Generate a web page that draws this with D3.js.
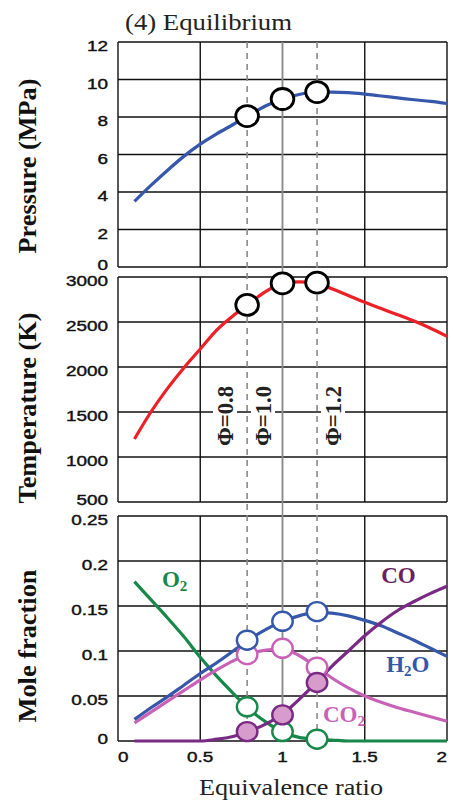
<head>
	<meta charset="utf-8">
	<script src="https://d3js.org/d3.v7.min.js"></script>
	<style>
		body {
			margin: 0;
			background: #fff;
		}
		.tick-label {
			font-family: "Liberation Sans", Arial, sans-serif;
			font-size: 14px;
			fill: #111;
			stroke: #111;
			stroke-width: 0.4px;
		}
		.serif {
			font-family: "Liberation Serif", "Times New Roman", serif;
		}
	</style>
</head>
<body>

<svg width="453" height="801" id="chart"></svg>

<script>

	var phi = [0.1, 0.2, 0.3, 0.4, 0.5, 0.6, 0.7, 0.8, 0.9, 1.0, 1.1, 1.2, 1.3, 1.4, 1.5, 1.6, 1.7, 1.8, 1.9, 2.0];

	var pressure = [3.5, 4.35, 5.15, 5.9, 6.55, 7.1, 7.6, 8.12, 8.6, 8.96, 9.2, 9.32, 9.33, 9.3, 9.22, 9.12, 9.02, 8.92, 8.83, 8.72];
	var temperature = [1200, 1500, 1760, 1990, 2200, 2410, 2570, 2710, 2840, 2930, 2945, 2938, 2870, 2795, 2720, 2650, 2580, 2510, 2430, 2340];

	var h2o = [0.024, 0.037, 0.049, 0.062, 0.075, 0.087, 0.100, 0.113, 0.124, 0.133, 0.139, 0.143, 0.142, 0.139, 0.134, 0.128, 0.120, 0.112, 0.103, 0.094];
	var co2 = [0.020, 0.032, 0.044, 0.056, 0.068, 0.079, 0.089, 0.097, 0.101, 0.102, 0.095, 0.083, 0.070, 0.059, 0.050, 0.043, 0.037, 0.032, 0.027, 0.022];
	var o2 = [0.177, 0.157, 0.137, 0.116, 0.093, 0.072, 0.053, 0.035, 0.021, 0.010, 0.004, 0.002, 0.001, 0, 0, 0, 0, 0, 0, 0];
	var co = [0, 0, 0, 0, 0, 0.002, 0.005, 0.011, 0.019, 0.030, 0.046, 0.064, 0.083, 0.100, 0.117, 0.132, 0.145, 0.155, 0.164, 0.172];

	// the three marked equivalence ratios and the values at the circles
	var phiMarks = [0.785, 1.0, 1.21];
	var phiLabels = ["Φ=0.8", "Φ=1.0", "Φ=1.2"];
	var pressureMarks = [8.05, 8.96, 9.33];
	var temperatureMarks = [2690, 2930, 2937];
	var h2oMarks = [0.112, 0.133, 0.1437];
	var co2Marks = [0.096, 0.103, 0.082];
	var o2Marks = [0.038, 0.0105, 0.002];
	var coMarks = [0.0104, 0.029, 0.065];

	var xTicks = [0, 0.5, 1, 1.5, 2];
	var pressureTicks = [0, 2, 4, 6, 8, 10, 12];
	var temperatureTicks = [500, 1000, 1500, 2000, 2500, 3000];
	var moleTicks = [0, 0.05, 0.1, 0.15, 0.2, 0.25];

	var svg = d3.select("#chart");

	var x = d3.scaleLinear().domain([0, 2]).range([118, 447]);
	var yP = d3.scaleLinear().domain([0, 12]).range([267, 42]);
	var yT = d3.scaleLinear().domain([500, 3000]).range([502, 277]);
	var yM = d3.scaleLinear().domain([0, 0.25]).range([741, 516]);

	var blue = "#3657aa",
		red = "#ec2027",
		green = "#17884a",
		pink = "#c862b6",
		purple = "#782a84",
		coFill = "#d89ccc";

	function panel(y, ticks) {
		var g = svg.append("g");
		var y0 = y.range()[0], y1 = y.range()[1];

		g.selectAll(".hgrid")
			.data(ticks)
			.enter().append("line")
			.attr("x1", x(0)).attr("x2", x(2))
			.attr("y1", d => y(d)).attr("y2", d => y(d))
			.attr("stroke", "#111")
			.attr("stroke-width", 1.4);

		g.selectAll(".vgrid")
			.data(xTicks)
			.enter().append("line")
			.attr("x1", d => x(d)).attr("x2", d => x(d))
			.attr("y1", y0).attr("y2", y1)
			.attr("stroke", d => d == 1 ? "#8a8a8a" : "#111")
			.attr("stroke-width", 1.4);

		g.selectAll(".ylab")
			.data(ticks)
			.enter().append("text")
			.attr("class", "tick-label")
			.attr("text-anchor", "end")
			.attr("dominant-baseline", "central")
			.attr("transform", (d, i) => "translate(108," + (y(d) + (i == 0 ? -2 : 4.5)) + ") scale(1.35,1)")
			.text(d => String(d));
	}

	panel(yP, pressureTicks);
	panel(yT, temperatureTicks);
	panel(yM, moleTicks);

	// x tick labels under the bottom panel
	svg.selectAll(".xlab")
		.data(xTicks)
		.enter().append("text")
		.attr("class", "tick-label")
		.attr("text-anchor", (d, i) => i == 0 ? "start" : i == xTicks.length - 1 ? "end" : "middle")
		.attr("dominant-baseline", "central")
		.attr("transform", d => "translate(" + x(d) + ",757) scale(1.35,1)")
		.text(d => String(d));

	// phi marker lines
	svg.selectAll(".philine")
		.data(phiMarks)
		.enter().append("line")
		.attr("x1", d => x(d)).attr("x2", d => x(d))
		.attr("y1", 42).attr("y2", 741)
		.attr("stroke", "#8a8a8a")
		.attr("stroke-width", 1.6)
		.attr("stroke-dasharray", d => d == 1 ? null : "6,5");

	var phiLabelX = [225, 263, 333];
	phiLabels.forEach(function(t, i) {
		var g = svg.append("g")
			.attr("transform", "translate(" + phiLabelX[i] + ",416) rotate(-90)");
		g.append("rect")
			.attr("x", -32).attr("y", -12)
			.attr("width", 64).attr("height", 24)
			.attr("fill", "#fff");
		g.append("text")
			.attr("class", "serif")
			.attr("text-anchor", "middle")
			.attr("dy", "0.35em")
			.attr("font-weight", "bold")
			.attr("font-size", 23)
			.attr("textLength", 60)
			.attr("lengthAdjust", "spacingAndGlyphs")
			.attr("fill", "#222")
			.text(t);
	});

	function curve(y, values, color) {
		var line = d3.line()
			.x((d, i) => x(phi[i]))
			.y(d => y(d))
			.curve(d3.curveMonotoneX);
		svg.append("path")
			.datum(values)
			.attr("d", line)
			.attr("fill", "none")
			.attr("stroke", color)
			.attr("stroke-width", 3.2);
	}

	function marks(y, values, stroke, fill, r, sw) {
		svg.append("g").selectAll("ellipse")
			.data(values)
			.enter().append("ellipse")
			.attr("cx", (d, i) => x(phiMarks[i]))
			.attr("cy", d => y(d))
			.attr("rx", r * 1.08)
			.attr("ry", r)
			.attr("fill", fill)
			.attr("stroke", stroke)
			.attr("stroke-width", sw);
	}

	curve(yP, pressure, blue);
	marks(yP, pressureMarks, "#000", "#fff", 10.5, 2.8);

	curve(yT, temperature, red);
	marks(yT, temperatureMarks, "#000", "#fff", 10.5, 2.8);

	curve(yM, o2, green);
	curve(yM, co2, pink);
	curve(yM, h2o, blue);
	curve(yM, co, purple);
	marks(yM, o2Marks, green, "#fff", 9.5, 2.4);
	marks(yM, co2Marks, pink, "#fff", 9.5, 2.4);
	marks(yM, h2oMarks, blue, "#fff", 9.5, 2.4);
	marks(yM, coMarks, purple, coFill, 9.5, 2.4);

	// species names
	function species(name, sub, rest, px, py, color) {
		var t = svg.append("text")
			.attr("class", "serif")
			.attr("x", x(px)).attr("y", yM(py))
			.attr("font-weight", "bold")
			.attr("font-size", 23)
			.attr("fill", color)
			.text(name);
		if (sub) {
			t.append("tspan").attr("font-size", 15).attr("dy", 4).text(sub);
			if (rest) t.append("tspan").attr("dy", -4).text(rest);
		}
	}

	species("O", "2", "", 0.267, 0.171, green);
	species("CO", "", "", 1.6, 0.1755, "#6a1f61");
	species("H", "2", "O", 1.63, 0.0767, blue);
	species("CO", "2", "", 1.246, 0.021, pink);

	// titles
	svg.append("text")
		.attr("class", "serif")
		.attr("x", 125).attr("y", 30)
		.attr("font-size", 23)
		.attr("textLength", 167)
		.attr("lengthAdjust", "spacingAndGlyphs")
		.attr("fill", "#222")
		.text("(4) Equilibrium");

	svg.append("text")
		.attr("class", "serif")
		.attr("x", 199).attr("y", 795)
		.attr("font-size", 24)
		.attr("textLength", 184)
		.attr("lengthAdjust", "spacingAndGlyphs")
		.attr("fill", "#222")
		.text("Equivalence ratio");

	var yTitles = [
		{text: "Pressure (MPa)", c: 166, len: 175},
		{text: "Temperature (K)", c: 408, len: 191},
		{text: "Mole fraction", c: 646, len: 153}
	];

	yTitles.forEach(function(t) {
		svg.append("text")
			.attr("class", "serif")
			.attr("transform", "translate(36," + (t.c + t.len / 2) + ") rotate(-90)")
			.attr("font-size", 25)
			.attr("font-weight", "bold")
			.attr("textLength", t.len)
			.attr("lengthAdjust", "spacingAndGlyphs")
			.attr("fill", "#111")
			.text(t.text);
	});

</script>
</body>
